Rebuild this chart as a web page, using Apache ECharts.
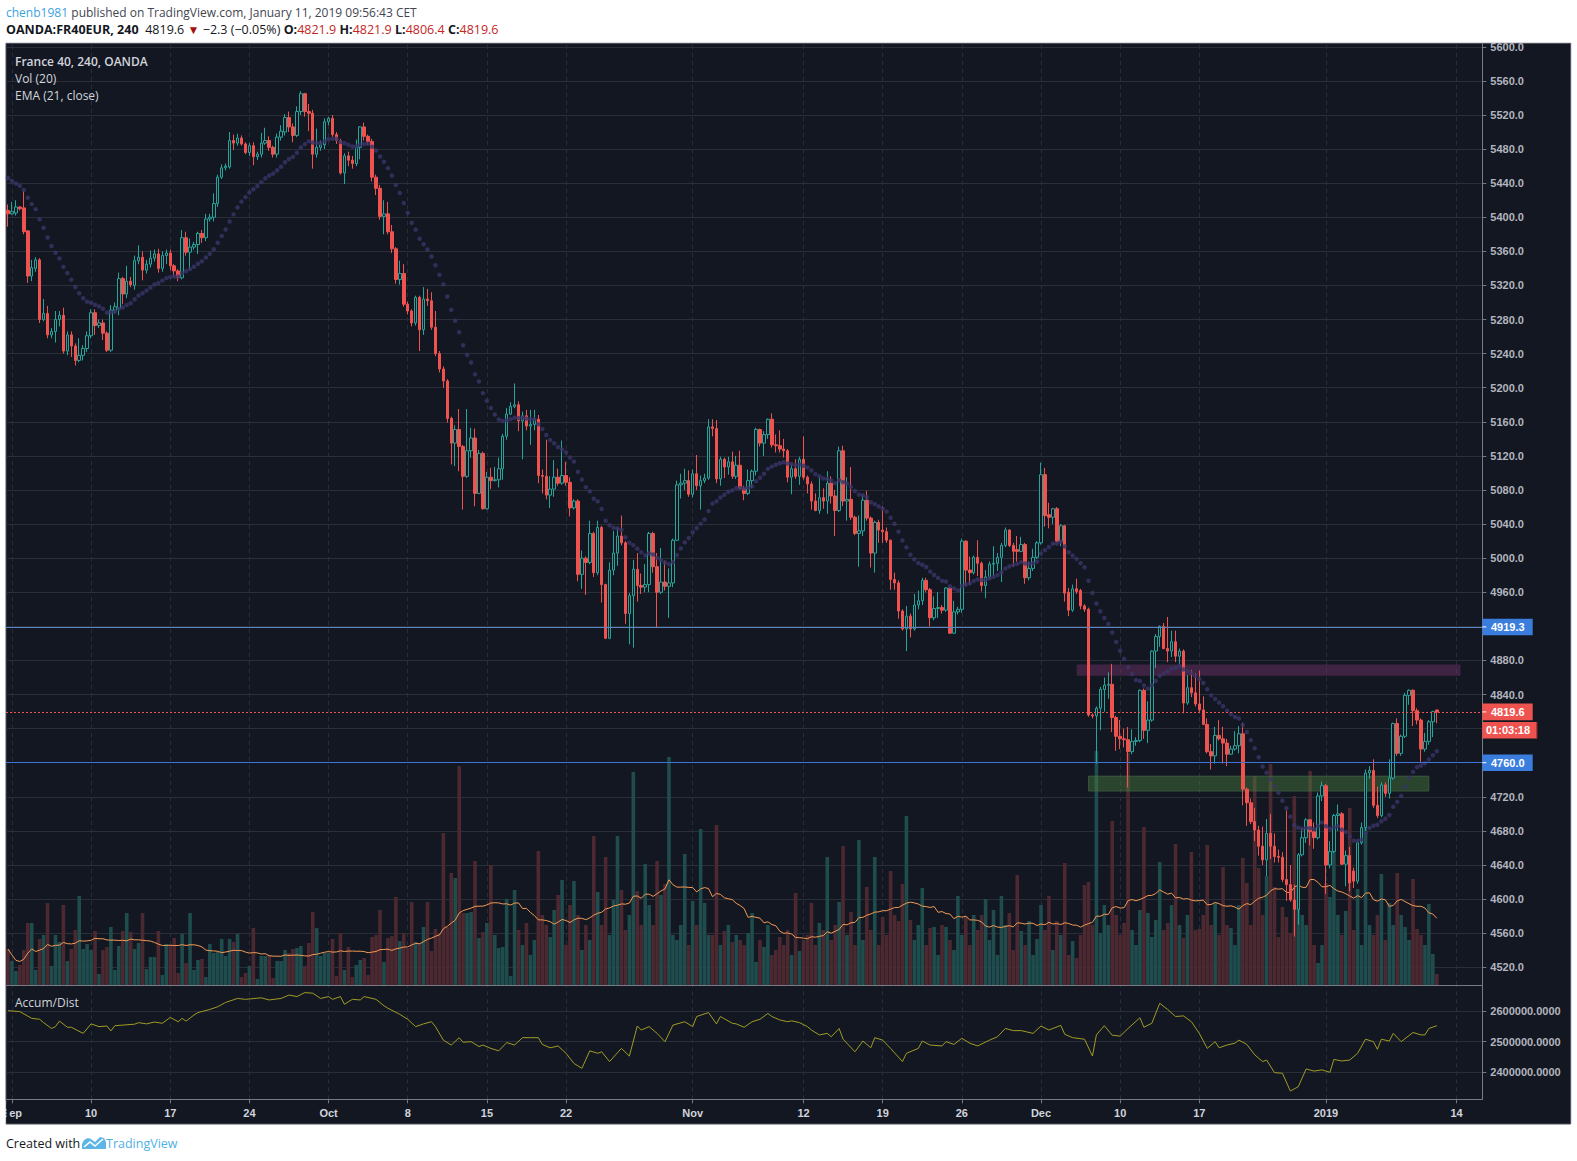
<!DOCTYPE html>
<html><head><meta charset="utf-8">
<script src="https://cdn.jsdelivr.net/npm/echarts@6/dist/echarts.min.js"></script>
<style>html,body{margin:0;padding:0;background:#fff;}#c{width:1577px;height:1161px;}</style>
</head><body><div id="c"></div>
<script>
// ---------------- data ----------------
// candles: [open, close, low, high] per 4h bar (OANDA FR40EUR, 240)
const candles = [
[5408,5404,5389,5415],[5404,5407,5403,5418],[5405,5412,5402,5420],[5412,5410,5408,5413],[5411,5383,5380,5431],[5384,5331,5323,5385],[5331,5341,5325,5350],[5340,5350,5336,5353],[5350,5280,5276,5352],[5280,5287,5278,5304],
[5287,5262,5258,5296],[5262,5266,5258,5270],[5266,5280,5253,5290],[5280,5285,5272,5290],[5285,5243,5240,5294],[5243,5262,5238,5266],[5262,5249,5236,5266],[5249,5232,5226,5252],[5232,5238,5230,5258],[5238,5246,5232,5250],
[5246,5261,5242,5266],[5261,5288,5258,5292],[5288,5273,5262,5292],[5273,5276,5270,5280],[5276,5264,5256,5280],[5264,5244,5242,5266],[5244,5291,5242,5297],[5291,5295,5287,5300],[5293,5328,5285,5335],[5328,5310,5298,5330],
[5310,5325,5305,5343],[5325,5321,5318,5330],[5320,5349,5315,5355],[5349,5353,5345,5367],[5353,5338,5326,5360],[5338,5345,5334,5350],[5345,5352,5341,5361],[5352,5357,5348,5362],[5357,5340,5335,5363],[5340,5355,5336,5360],
[5355,5358,5345,5362],[5358,5343,5338,5362],[5343,5337,5330,5345],[5337,5329,5325,5339],[5329,5376,5327,5385],[5376,5359,5355,5383],[5359,5365,5338,5375],[5365,5368,5362,5371],[5368,5381,5357,5383],[5381,5376,5370,5385],
[5376,5398,5372,5404],[5398,5400,5395,5404],[5400,5416,5395,5428],[5416,5447,5412,5450],[5447,5458,5445,5462],[5458,5460,5455,5463],[5459,5490,5457,5500],[5490,5487,5479,5497],[5487,5493,5484,5498],[5493,5486,5484,5496],
[5486,5476,5474,5488],[5476,5484,5472,5487],[5484,5471,5461,5488],[5471,5474,5467,5477],[5474,5487,5470,5499],[5487,5490,5485,5505],[5490,5482,5478,5495],[5482,5474,5470,5484],[5474,5494,5470,5498],[5494,5501,5490,5508],
[5500,5517,5496,5521],[5517,5506,5500,5524],[5506,5496,5488,5510],[5496,5524,5494,5530],[5524,5545,5520,5548],[5545,5524,5518,5546],[5524,5522,5501,5533],[5522,5474,5457,5526],[5474,5482,5470,5504],[5482,5485,5478,5490],
[5485,5512,5480,5516],[5512,5516,5508,5518],[5516,5497,5494,5520],[5497,5490,5486,5500],[5490,5452,5450,5492],[5452,5472,5439,5475],[5472,5467,5460,5477],[5467,5463,5457,5472],[5463,5482,5460,5491],[5482,5506,5468,5507],
[5506,5495,5490,5511],[5495,5489,5485,5497],[5489,5447,5442,5492],[5447,5434,5426,5450],[5434,5401,5397,5438],[5401,5404,5380,5420],[5404,5383,5380,5418],[5383,5363,5358,5391],[5363,5327,5322,5365],[5327,5334,5321,5349],
[5334,5298,5295,5345],[5298,5290,5286,5301],[5290,5276,5272,5292],[5276,5306,5273,5308],[5306,5268,5243,5308],[5268,5304,5262,5318],[5304,5302,5296,5316],[5302,5271,5268,5312],[5271,5240,5237,5290],[5240,5222,5218,5243],
[5222,5208,5200,5225],[5208,5164,5159,5210],[5164,5135,5110,5166],[5135,5151,5108,5156],[5151,5131,5102,5175],[5131,5096,5057,5133],[5096,5126,5094,5175],[5126,5141,5118,5153],[5141,5076,5061,5152],[5076,5123,5075,5127],
[5123,5058,5057,5125],[5058,5095,5057,5101],[5095,5091,5081,5106],[5091,5092,5090,5107],[5092,5105,5083,5118],[5105,5143,5092,5146],[5143,5169,5139,5176],[5169,5178,5168,5183],[5178,5180,5176,5205],[5180,5161,5149,5184],
[5161,5167,5116,5172],[5167,5155,5150,5174],[5155,5157,5133,5174],[5157,5163,5150,5174],[5163,5097,5088,5168],[5097,5096,5076,5104],[5096,5074,5069,5139],[5074,5081,5059,5096],[5081,5095,5072,5115],[5095,5088,5085,5105],
[5088,5097,5086,5138],[5097,5089,5085,5113],[5089,5059,5049,5095],[5059,5067,5057,5069],[5067,4981,4973,5069],[4981,5000,4964,5009],[5000,4995,4957,5002],[4995,5029,4993,5044],[5029,4983,4978,5031],[4983,5036,4980,5044],
[5036,4969,4948,5038],[4969,4906,4905,4970],[4906,4986,4905,4995],[4986,5006,4980,5032],[5006,5026,4991,5036],[5026,5018,5015,5050],[5018,4935,4923,5020],[4935,4956,4899,4959],[4956,4987,4895,4998],[4987,4968,4949,5006],
[4968,4966,4958,4982],[4966,4969,4960,4993],[4969,5029,4960,5031],[5029,4990,4983,5031],[4990,4960,4918,5006],[4960,4972,4958,5012],[4972,4967,4962,4997],[4967,4971,4930,4988],[4971,5021,4966,5023],[5021,5086,5020,5091],
[5086,5088,5070,5099],[5088,5091,5080,5105],[5091,5075,5072,5103],[5075,5099,5071,5104],[5099,5085,5080,5121],[5085,5091,5057,5097],[5091,5094,5088,5099],[5094,5154,5092,5163],[5154,5152,5143,5163],[5152,5093,5088,5162],
[5093,5116,5085,5119],[5116,5107,5094,5118],[5107,5113,5098,5119],[5113,5096,5093,5125],[5096,5109,5093,5120],[5109,5082,5080,5126],[5082,5076,5068,5085],[5076,5091,5074,5104],[5091,5102,5082,5104],[5102,5151,5097,5153],
[5151,5135,5131,5152],[5135,5145,5120,5149],[5145,5163,5140,5164],[5163,5133,5130,5170],[5133,5132,5124,5145],[5132,5128,5124,5150],[5128,5126,5118,5140],[5126,5095,5089,5128],[5095,5105,5075,5110],[5105,5096,5093,5116],
[5096,5116,5086,5119],[5116,5095,5092,5143],[5095,5087,5076,5097],[5087,5067,5057,5090],[5067,5056,5055,5076],[5056,5071,5052,5095],[5071,5067,5058,5082],[5067,5088,5052,5102],[5088,5073,5064,5096],[5073,5056,5026,5080],
[5056,5126,5054,5131],[5126,5067,5061,5132],[5067,5069,5044,5095],[5069,5048,5045,5107],[5048,5029,5027,5050],[5029,5032,4990,5050],[5032,5068,5026,5074],[5068,5047,5044,5079],[5047,5006,4989,5049],[5006,5042,4983,5044],
[5042,5033,5018,5045],[5033,5031,5018,5061],[5031,5021,5018,5036],[5021,4975,4963,5022],[4975,4971,4963,4983],[4971,4938,4929,4974],[4938,4917,4915,4940],[4917,4932,4891,4944],[4932,4917,4907,4935],[4917,4945,4915,4958],
[4945,4950,4940,4962],[4950,4974,4945,4977],[4974,4963,4960,4977],[4963,4930,4920,4965],[4930,4941,4927,4955],[4941,4942,4930,4960],[4942,4939,4935,4945],[4939,4965,4937,4966],[4965,4912,4911,4966],[4912,4937,4911,4950],
[4937,4940,4934,4943],[4940,5020,4936,5023],[5020,4986,4967,5021],[4986,4983,4969,5002],[4983,5001,4981,5003],[5001,4994,4979,5021],[4994,4968,4961,4996],[4968,4978,4953,4986],[4978,4993,4975,4996],[4993,4994,4979,5014],
[4994,5001,4985,5006],[5001,5015,4972,5018],[5015,5033,5013,5036],[5033,5015,5013,5034],[5015,5008,4990,5018],[5010,5008,4996,5026],[5008,5016,5007,5025],[5016,4977,4970,5018],[4977,4988,4974,4996],[4988,5001,4985,5011],
[5001,5018,4999,5020],[5018,5098,5016,5112],[5098,5050,5037,5106],[5051,5048,5035,5065],[5048,5058,5040,5059],[5058,5020,5018,5060],[5020,5038,5014,5040],[5038,4959,4949,5039],[4960,4939,4932,4965],[4939,4964,4937,4969],
[4964,4961,4958,4976],[4962,4944,4940,4964],[4944,4940,4937,4946],[4940,4816,4814,4942],[4816,4815,4812,4818],[4815,4824,4759,4826],[4824,4846,4798,4849],[4846,4851,4820,4860],[4851,4852,4835,4866],[4852,4813,4796,4876],
[4813,4791,4774,4815],[4791,4788,4776,4810],[4788,4787,4778,4800],[4787,4773,4731,4802],[4773,4785,4770,4799],[4785,4786,4780,4790],[4786,4845,4784,4846],[4845,4798,4788,4847],[4798,4810,4783,4832],[4810,4891,4808,4892],
[4891,4908,4871,4911],[4908,4920,4896,4921],[4920,4894,4893,4924],[4894,4891,4878,4931],[4891,4902,4884,4915],[4902,4885,4878,4915],[4885,4891,4876,4894],[4891,4830,4818,4893],[4830,4848,4828,4863],[4848,4842,4837,4869],
[4842,4829,4826,4865],[4829,4822,4818,4868],[4822,4805,4804,4838],[4805,4773,4771,4812],[4773,4768,4752,4782],[4768,4792,4759,4802],[4792,4788,4786,4810],[4788,4783,4759,4802],[4783,4770,4756,4788],[4770,4776,4769,4780],
[4776,4780,4774,4797],[4780,4794,4771,4803],[4794,4729,4710,4807],[4729,4713,4686,4731],[4713,4691,4688,4718],[4691,4681,4668,4707],[4681,4662,4651,4686],[4662,4646,4640,4685],[4646,4677,4627,4694],[4677,4662,4647,4700],
[4662,4650,4643,4677],[4650,4649,4643,4658],[4649,4623,4620,4655],[4623,4617,4598,4704],[4617,4599,4597,4640],[4599,4588,4556,4617],[4588,4652,4570,4654],[4652,4672,4650,4683],[4672,4693,4666,4695],[4693,4679,4663,4694],
[4679,4672,4659,4690],[4672,4721,4670,4725],[4721,4733,4715,4738],[4733,4640,4606,4735],[4640,4656,4636,4668],[4656,4698,4654,4700],[4698,4700,4680,4711],[4700,4641,4640,4702],[4641,4651,4615,4657],[4651,4619,4609,4661],
[4633,4621,4613,4637],[4621,4666,4618,4668],[4666,4684,4664,4690],[4684,4748,4680,4752],[4748,4751,4741,4756],[4751,4710,4707,4764],[4710,4698,4695,4732],[4698,4734,4696,4737],[4734,4724,4720,4737],[4724,4742,4718,4764],
[4742,4806,4740,4807],[4806,4771,4768,4812],[4771,4791,4768,4793],[4791,4839,4789,4842],[4839,4845,4828,4846],[4845,4821,4803,4846],[4821,4810,4805,4824],[4810,4776,4761,4812],[4776,4785,4773,4795],[4785,4808,4781,4810],
[4808,4820,4790,4821],[4821.9,4819.6,4806.4,4821.9]
];
// volume per bar (arbitrary units)
const volumes = [
36,24,14,20,35,62,62,15,46,50, 82,19,50,43,80,24,36,55,89,36, 41,35,54,11,35,38,58,15,39,54, 72,53,36,42,72,16,28,28,54,10,
41,40,47,12,51,22,72,15,25,26, 8,41,32,33,46,29,46,43,51,8, 12,19,57,6,29,29,30,7,24,24, 35,32,36,37,39,19,42,73,57,29,
32,32,46,9,52,15,38,8,20,25, 27,10,48,50,75,23,47,49,88,44, 52,37,83,43,42,58,83,34,56,52, 152,58,112,107,219,72,72,73,124,47,
53,62,120,50,37,38,86,9,95,55, 40,62,30,45,134,70,60,48,75,90, 105,40,80,104,70,35,60,45,149,93, 60,128,50,85,149,95,55,70,213,94,
60,121,80,60,124,90,101,228,50,45, 60,131,40,84,60,156,82,50,50,160, 40,54,60,43,50,45,40,52,72,23, 45,38,60,30,35,48,40,55,30,92,
34,45,50,82,40,62,55,128,45,60, 83,139,50,73,40,145,45,98,55,128, 40,68,50,114,70,64,101,169,65,45, 60,97,40,57,58,30,60,58,45,35,
89,50,69,40,70,55,70,86,45,75, 30,89,60,72,35,110,54,40,64,30, 46,80,55,89,35,64,50,122,30,44, 27,50,100,103,60,234,52,80,60,164,
70,50,62,232,55,40,75,158,72,48, 65,123,55,62,80,141,60,47,70,133, 55,56,70,140,60,82,50,118,60,57, 40,80,127,102,60,209,117,70,109,221,
98,48,78,68,52,189,98,70,60,214, 40,22,40,102,88,143,70,50,74,177, 55,96,40,157,60,50,70,111,45,82, 60,112,70,58,45,106,56,50,40,81,
31,11
];
// Accumulation/Distribution readings: [bar index, value]
const adPoints = [
[0,2601000],[3,2598000],[6,2576000],[8,2573000],[9,2562000],[11,2543000],[12,2549000],[13,2567000],[15,2547000],[16,2547000],[19,2527000],[21,2558000],[23,2549000],[25,2551000],[26,2535000],[27,2552000],[29,2554000],[32,2557000],[33,2562000],[35,2558000],[37,2564000],[39,2560000],[41,2579000],[43,2565000],[44,2576000],[45,2567000],[47,2587000],[48,2595000],[51,2605000],[53,2614000],[55,2628000],[58,2641000],[60,2638000],[64,2643000],[66,2636000],[69,2641000],[71,2652000],[73,2647000],[75,2660000],[77,2658000],[79,2641000],[81,2647000],[82,2638000],[84,2647000],[85,2622000],[87,2638000],[89,2636000],[90,2647000],[93,2638000],[95,2617000],[96,2609000],[99,2589000],[101,2573000],[103,2549000],[105,2558000],[107,2565000],[108,2549000],[110,2505000],[112,2489000],[114,2513000],[115,2498000],[117,2500000],[119,2484000],[120,2489000],[122,2478000],[124,2470000],[126,2497000],[128,2489000],[130,2513000],[132,2513000],[134,2513000],[135,2491000],[137,2480000],[139,2486000],[141,2462000],[143,2429000],[145,2413000],[147,2470000],[149,2462000],[150,2467000],[152,2435000],[154,2464000],[155,2478000],[157,2453000],[159,2551000],[160,2538000],[162,2549000],[164,2527000],[166,2500000],[168,2554000],[171,2565000],[173,2549000],[174,2582000],[177,2595000],[179,2558000],[180,2582000],[183,2560000],
[184,2558000],[186,2547000],[188,2565000],[190,2573000],[192,2592000],[193,2582000],[195,2571000],[197,2565000],[198,2568000],[200,2562000],[202,2549000],[203,2538000],[205,2522000],[207,2527000],[208,2516000],[210,2543000],[211,2508000],[214,2467000],[216,2502000],[218,2480000],[219,2513000],[221,2505000],[223,2478000],[226,2435000],[227,2462000],[230,2478000],[231,2502000],[233,2489000],[236,2486000],[237,2500000],[239,2491000],[241,2511000],[243,2495000],[245,2486000],[248,2505000],[250,2516000],[252,2543000],[254,2536000],[256,2536000],[259,2527000],[261,2551000],[263,2538000],[266,2553000],[267,2524000],[269,2513000],[272,2508000],[274,2453000],[275,2522000],[277,2552000],[279,2521000],[281,2518000],[283,2543000],[286,2578000],[287,2547000],[289,2560000],[291,2625000],[293,2605000],[295,2582000],[297,2584000],[299,2565000],[301,2527000],[303,2478000],[305,2500000],[306,2480000],[308,2489000],[310,2495000],[311,2505000],[313,2491000],[315,2457000],[317,2435000],[318,2440000],[320,2399000],[322,2397000],[324,2339000],[326,2353000],[328,2411000],[330,2404000],[332,2408000],[334,2400000],[335,2442000],[337,2437000],[339,2440000],[341,2462000],[343,2508000],[345,2500000],[346,2475000],[347,2508000],[349,2502000],[350,2527000],[352,2500000],[355,2530000],[357,2522000],[358,2522000],[359,2543000],[361,2552000]
];
const emaSeed = 5446;            // EMA(21) value at the first visible bar
const priceTicks = [4520,4560,4600,4640,4680,4720,4760,4800,4840,4880,4920,4960,5000,5040,5080,5120,5160,5200,5240,5280,5320,5360,5400,5440,5480,5520,5560,5600];
// axis labels shown (the ones at 4760/4800/4920 sit under the price tags and are hidden there)
const priceLabels = [4520,4560,4600,4640,4680,4720,4840,4880,4960,5000,5040,5080,5120,5160,5200,5240,5280,5320,5360,5400,5440,5480,5520,5560,5600];
const adTicks = [2400000,2500000,2600000];
const timeTickIndex = [1,21,41,61,81,101,121,141,173,201,221,241,261,281,301,333,366];
const timeTickText  = ['Sep','10','17','24','Oct','8','15','22','Nov','12','19','26','Dec','10','17','2019','14'];
const hLines = [4919.3, 4760.0];
const lastPrice = 4819.6;
const countdown = '01:03:18';
const zones = [ // [fromBar, toBar, top, bottom]
  [270, 367, 4875.3, 4861.9],
  [273, 359, 4744.3, 4726.7]
];
const PRICE_MIN = 4499.2, PRICE_MAX = 5604.1, AD_MIN = 2312000, AD_MAX = 2684800, VOL_AXIS_MAX = 941.7;

// ---------------- calendar (4h bars, 07/11/15/19 CET) ----------------
const HOLIDAYS = ['2018-12-25','2018-12-26','2019-01-01'];
const HALF_DAYS = ['2018-12-24','2018-12-31'];
const HOURS = ['07:00','11:00','15:00','19:00'];
function buildCategories(){
  const cats = ['2018-08-31 19:00'];
  const d = new Date(Date.UTC(2018,8,3));
  const end = Date.UTC(2019,0,15);
  while (d.getTime() <= end){
    const wd = d.getUTCDay(), iso = d.toISOString().slice(0,10);
    if (wd !== 0 && wd !== 6 && HOLIDAYS.indexOf(iso) < 0){
      (HALF_DAYS.indexOf(iso) >= 0 ? HOURS.slice(0,2) : HOURS).forEach(h => cats.push(iso+' '+h));
    }
    d.setUTCDate(d.getUTCDate()+1);
  }
  return cats;
}
const categories = buildCategories();

// ---------------- indicators ----------------
const closes = candles.map(c => c[1]);
const ema = []; const k = 2/22;
closes.forEach((c,i) => { ema.push(i === 0 ? emaSeed : ema[i-1] + k*(c - ema[i-1])); });
const volMA = volumes.map((v,i) => { const s = volumes.slice(Math.max(0,i-19), i+1); return s.reduce((a,b)=>a+b,0)/s.length; });

const UP = '#26a69a', DOWN = '#ef5350', BG = '#131722', GRID = '#2a2e39', AXIS = '#787b86';
const volData = volumes.map((v,i) => ({value: v, itemStyle: {color: candles[i][1] >= candles[i][0] ? '#1f4c4d' : '#4c2830'}}));
const tickSet = new Set(timeTickIndex);
const FONT = '"Liberation Sans", Arial, sans-serif';
const UIFONT = '"Open Sans", "Noto Sans", sans-serif';

const vGrid = timeTickIndex.map(i => ({xAxis: i}));

const chart = echarts.init(document.getElementById('c'), null, {renderer: 'svg', width: 1577, height: 1161});

const option = {
  animation: false,
  backgroundColor: '#ffffff',
  textStyle: {fontFamily: FONT},
  grid: [
    {left: 6, top: 43.3, width: 1476.3, height: 941.7, containLabel: false, outerBoundsMode: 'none'},
    {left: 6, top: 985, width: 1476.3, height: 114.3, containLabel: false, outerBoundsMode: 'none'}
  ],
  xAxis: [
    {type: 'category', gridIndex: 0, data: categories, boundaryGap: true,
     axisLine: {show: true, lineStyle: {color: AXIS}}, axisTick: {show: false}, axisLabel: {show: false}, splitLine: {show: false}},
    {type: 'category', gridIndex: 1, data: categories, boundaryGap: true,
     axisLine: {show: true, lineStyle: {color: AXIS}},
     axisTick: {show: true, alignWithLabel: true, length: 4, interval: (i) => tickSet.has(i), lineStyle: {color: AXIS}},
     axisLabel: {show: true, interval: (i) => tickSet.has(i), margin: 8, color: '#d1d4dc', fontSize: 11, fontWeight: 'bold', fontFamily: FONT,
       formatter: (v, i) => { const p = timeTickIndex.indexOf(i); return p >= 0 ? timeTickText[p] : ''; }},
     splitLine: {show: false}}
  ],
  yAxis: [
    {type: 'value', gridIndex: 0, position: 'right', min: PRICE_MIN, max: PRICE_MAX,
     axisLine: {show: true, lineStyle: {color: AXIS}},
     axisTick: {show: true, length: 4, customValues: priceTicks, lineStyle: {color: AXIS}},
     axisLabel: {show: true, customValues: priceLabels, formatter: v => v.toFixed(1), margin: 8, color: '#b2b5be', fontSize: 11, fontWeight: 'bold', fontFamily: FONT},
     splitLine: {show: true, lineStyle: {color: GRID, width: 1}}},
    {type: 'value', gridIndex: 0, min: 0, max: VOL_AXIS_MAX, show: false, splitLine: {show: false}},
    {type: 'value', gridIndex: 1, position: 'right', min: AD_MIN, max: AD_MAX,
     axisLine: {show: true, lineStyle: {color: AXIS}},
     axisTick: {show: true, length: 4, customValues: adTicks, lineStyle: {color: AXIS}},
     axisLabel: {show: true, customValues: adTicks, formatter: v => v.toFixed(4), margin: 8, color: '#b2b5be', fontSize: 11, fontWeight: 'bold', fontFamily: FONT},
     splitLine: {show: true, lineStyle: {color: GRID, width: 1}}}
  ],
  series: [
    {name: 'Vol', type: 'bar', xAxisIndex: 0, yAxisIndex: 1, data: volData, barWidth: 3.6, z: 1, silent: true,
     markLine: {silent: true, symbol: 'none', z: 0, label: {show: false}, lineStyle: {color: GRID, type: [4,4], width: 1}, data: vGrid}},
    {name: 'VolMA', type: 'line', xAxisIndex: 0, yAxisIndex: 1, data: volMA, symbol: 'none', z: 2, silent: true,
     lineStyle: {color: '#f29a55', width: 1}},
    {name: 'FR40', type: 'candlestick', xAxisIndex: 0, yAxisIndex: 0, data: candles, barWidth: 3, z: 3, silent: true,
     itemStyle: {color: BG, color0: DOWN, borderColor: UP, borderColor0: DOWN, borderWidth: 1},
     markArea: {silent: true, z: 2, data: [
       [{xAxis: zones[0][0], yAxis: zones[0][2], itemStyle: {color: 'rgba(122,54,112,0.42)'}}, {xAxis: zones[0][1], yAxis: zones[0][3]}],
       [{xAxis: zones[1][0], yAxis: zones[1][2], itemStyle: {color: 'rgba(78,138,62,0.40)', borderColor: 'rgba(70,110,70,0.6)', borderWidth: 1}}, {xAxis: zones[1][1], yAxis: zones[1][3]}]
     ]},
     markLine: {silent: true, symbol: 'none', z: 6, label: {show: false}, data: [
       {yAxis: hLines[0], lineStyle: {color: '#5b84c7', width: 1, type: 'solid'}},
       {yAxis: hLines[1], lineStyle: {color: '#3f74d6', width: 1, type: 'solid'}},
       {yAxis: lastPrice, lineStyle: {color: DOWN, width: 1, type: [2,2]}}
     ]}},
    {name: 'EMA', type: 'scatter', xAxisIndex: 0, yAxisIndex: 0, data: ema.map((v,i) => [i, v]), symbolSize: 4.5, z: 4, silent: true,
     itemStyle: {color: '#3a3468'}},
    {name: 'AD', type: 'line', xAxisIndex: 1, yAxisIndex: 2, data: adPoints, symbol: 'none', z: 3, silent: true,
     lineStyle: {color: '#a09c25', width: 1},
     markLine: {silent: true, symbol: 'none', z: 0, label: {show: false}, lineStyle: {color: GRID, type: [4,4], width: 1}, data: vGrid}}
  ],
  graphic: {elements: [
    {id: 'frame', type: 'rect', z: -10, silent: true, shape: {x: 6, y: 43.3, width: 1564.7, height: 1080.7}, style: {fill: BG, stroke: '#50535e', lineWidth: 1}},
    {id: 'clipL', type: 'rect', z: 100, silent: true, shape: {x: 0, y: 1100.5, width: 5.5, height: 23}, style: {fill: '#ffffff'}},
    {id: 'clipL2', type: 'rect', z: 100, silent: true, shape: {x: 6.6, y: 1104, width: 2.6, height: 18}, style: {fill: BG}},
    {id: 'h1', type: 'text', z: 100, silent: true, x: 6, y: 12.7, style: {
      text: '{a|chenb1981} {b|published on TradingView.com, January 11, 2019 09:56:43 CET}', verticalAlign: 'middle',
      rich: {a: {fill: '#3ba3de', fontSize: 12, fontFamily: UIFONT}, b: {fill: '#434651', fontSize: 12, fontFamily: UIFONT}}}},
    {id: 'h2', type: 'text', z: 100, silent: true, x: 6, y: 29.3, style: {
      text: '{k|OANDA:FR40EUR, 240}  {n|4819.6} {t|▼} {n|−2.3 (−0.05%)} {k|O:}{v|4821.9} {k|H:}{v|4821.9} {k|L:}{v|4806.4} {k|C:}{v|4819.6}', verticalAlign: 'middle',
      rich: {k: {fill: '#131722', fontSize: 12.5, fontWeight: 'bold', fontFamily: UIFONT},
             n: {fill: '#131722', fontSize: 12.5, fontFamily: UIFONT},
             t: {fill: '#a30f0f', fontSize: 12, fontFamily: UIFONT},
             v: {fill: '#c3271f', fontSize: 12.5, fontFamily: UIFONT}}}},
    {id: 'lg1', type: 'text', z: 100, silent: true, x: 15, y: 61, style: {text: 'France 40, 240, OANDA', fill: '#d1d4dc', font: '600 12px "Open Sans", sans-serif', verticalAlign: 'middle'}},
    {id: 'lg2', type: 'text', z: 100, silent: true, x: 15, y: 78, style: {text: 'Vol (20)', fill: '#d1d4dc', font: '12px "Open Sans", sans-serif', verticalAlign: 'middle'}},
    {id: 'lg3', type: 'text', z: 100, silent: true, x: 15, y: 95, style: {text: 'EMA (21, close)', fill: '#d1d4dc', font: '12px "Open Sans", sans-serif', verticalAlign: 'middle'}},
    {id: 'lg4', type: 'text', z: 100, silent: true, x: 15, y: 1002.7, style: {text: 'Accum/Dist', fill: '#d1d4dc', font: '12px "Open Sans", sans-serif', verticalAlign: 'middle'}},
    {id: 'ft1', type: 'text', z: 100, silent: true, x: 6, y: 1143.3, style: {text: 'Created with', fill: '#131722', font: '12.5px "Open Sans", sans-serif', verticalAlign: 'middle'}},
    {id: 'logo', type: 'polygon', z: 100, silent: true, shape: {points: [[82,1149],[82,1144],[84,1140],[88,1138],[91,1139],[95,1142],[100,1137],[104,1138],[106,1142],[106,1149]]}, style: {fill: '#5db5e6'}},
    {id: 'logo2', type: 'polyline', z: 101, silent: true, shape: {points: [[84,1147],[90,1142],[95,1146],[103,1139]]}, style: {stroke: '#ffffff', lineWidth: 1.6, fill: null}},
    {id: 'ft2', type: 'text', z: 100, silent: true, x: 106, y: 1143.3, style: {text: 'TradingView', fill: '#4fb0e6', font: '12.5px "Open Sans", sans-serif', verticalAlign: 'middle'}}
  ]}
};
chart.setOption(option);

// price tags on the right axis, placed through the price scale
const yp = v => chart.convertToPixel({yAxisIndex: 0}, v);
function tagEls(id, value, text, color, dy, w, darkEdge){
  const cy = yp(value) + (dy || 0);
  const els = [
    {id: id+'b', type: 'rect', z: 110, silent: true, shape: {x: 1482.3, y: cy - 8.3, width: w, height: 16.6}, style: {fill: color}},
    {id: id+'t', type: 'text', z: 111, silent: true, x: dy ? 1486 : 1491, y: cy, style: {text: text, fill: '#ffffff', font: 'bold 11px "Liberation Sans", Arial, sans-serif', verticalAlign: 'middle'}}
  ];
  if (!dy) els.push({id: id+'k', type: 'line', z: 111, silent: true, shape: {x1: 1482.3, y1: cy, x2: 1486.3, y2: cy}, style: {stroke: '#ffffff', lineWidth: 1}});
  if (darkEdge) els.push({id: id+'e', type: 'line', z: 111, silent: true, shape: {x1: 1482.3 + w, y1: cy - 8.3, x2: 1482.3 + w, y2: cy + 8.3}, style: {stroke: '#b73533', lineWidth: 1.2}});
  return els;
}
chart.setOption({graphic: {elements: [].concat(
  tagEls('tg1', hLines[0], hLines[0].toFixed(1), '#3b7ddd', 0, 50.4),
  tagEls('tg2', lastPrice, lastPrice.toFixed(1), DOWN, 0, 50.4),
  tagEls('tg3', lastPrice, countdown, DOWN, 18.4, 54.4, true),
  tagEls('tg4', hLines[1], hLines[1].toFixed(1), '#3b7ddd', 0, 50.4)
)}});
</script>
</body></html>
